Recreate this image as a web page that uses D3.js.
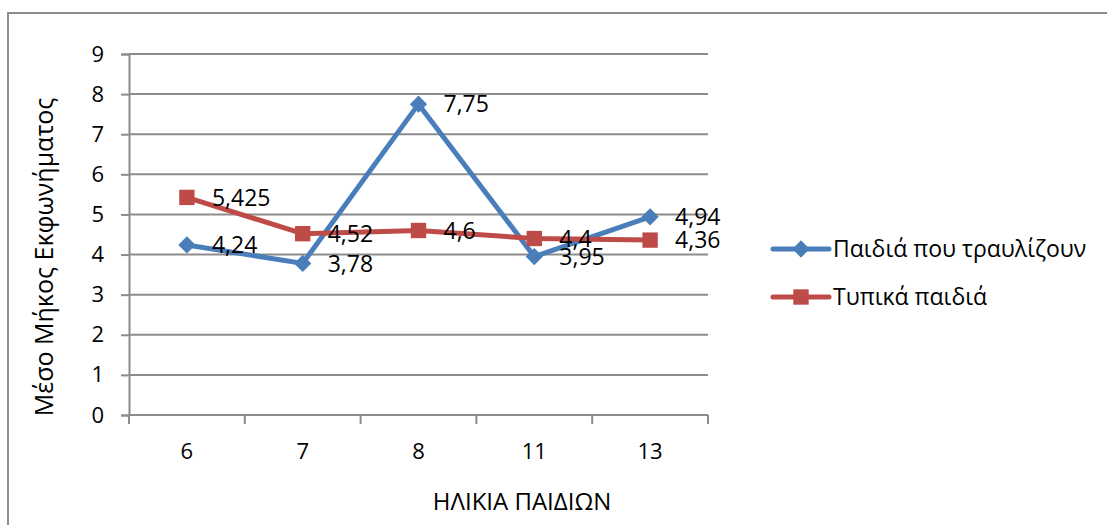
<!DOCTYPE html>
<html>
<head>
<meta charset="utf-8">
<script src="https://cdn.jsdelivr.net/npm/d3@7"></script>
<style>
  body { margin: 0; background: #fff; }
  svg { display: block; font-family: 'Open Sans', sans-serif; }
</style>
</head>
<body>
<script>
'use strict'

const ages = ['6', '7', '8', '11', '13']
const stutter = [4.24, 3.78, 7.75, 3.95, 4.94]
const typical = [5.425, 4.52, 4.6, 4.4, 4.36]
const stutterLabels = ['4,24', '3,78', '7,75', '3,95', '4,94']
const typicalLabels = ['5,425', '4,52', '4,6', '4,4', '4,36']
const yTicks = [0, 1, 2, 3, 4, 5, 6, 7, 8, 9]

const width = 1107
const height = 525
const gridColor = '#8c8c8c'
const blue = '#4a7ebb'
const red = '#be4b48'

const svg = d3.select('body').append('svg').attr('width', width).attr('height', height)

// outer chart frame (right and bottom edges fall outside the picture)
svg.append('rect')
    .attr('x', 8).attr('y', 13)
    .attr('width', 1300).attr('height', 700)
    .attr('fill', 'none').attr('stroke', gridColor).attr('stroke-width', 2)

const x = d3.scaleBand().domain(ages).range([129, 708])
const y = d3.scaleLinear().domain([0, 9]).range([415, 54])
const cx = d => x(d) + x.bandwidth() / 2

// horizontal gridlines + y axis
const yAxis = d3.axisLeft(y).tickValues(yTicks).tickSize(8).tickPadding(17)
const gy = svg.append('g').attr('transform', 'translate(129,0)').call(yAxis)
gy.select('.domain').attr('stroke', gridColor).attr('stroke-width', 2)
gy.selectAll('.tick line').attr('stroke', gridColor).attr('stroke-width', 2)
gy.selectAll('.tick text').attr('font-size', 22).attr('fill', '#000')
    .attr('font-family', 'Open Sans')

svg.append('g').selectAll('line')
    .data(yTicks.slice(1))
    .join('line')
    .attr('x1', 129).attr('x2', 708)
    .attr('y1', d => y(d)).attr('y2', d => y(d))
    .attr('stroke', gridColor).attr('stroke-width', 2)

// x axis: line, ticks at the category boundaries, labels at the centres
svg.append('line')
    .attr('x1', 129).attr('x2', 708).attr('y1', y(0)).attr('y2', y(0))
    .attr('stroke', gridColor).attr('stroke-width', 2)

svg.append('g').selectAll('line')
    .data(ages.map(a => x(a)).concat([x.range()[1]]))
    .join('line')
    .attr('x1', d => d).attr('x2', d => d)
    .attr('y1', y(0)).attr('y2', y(0) + 9)
    .attr('stroke', gridColor).attr('stroke-width', 2)

svg.append('g').selectAll('text')
    .data(ages)
    .join('text')
    .attr('x', d => cx(d)).attr('y', 459)
    .attr('text-anchor', 'middle').attr('font-size', 22)
    .text(d => d)

// axis titles
svg.append('text')
    .attr('x', 522).attr('y', 510)
    .attr('text-anchor', 'middle').attr('font-size', 24)
    .text('ΗΛΙΚΙΑ ΠΑΙΔΙΩΝ')

svg.append('text')
    .attr('transform', 'translate(53,257) rotate(-90)')
    .attr('text-anchor', 'middle').attr('font-size', 25)
    .text('Μέσο Μήκος Εκφωνήματος')

// series
const line = d3.line().x(d => cx(d.age)).y(d => y(d.v))
const diamond = d3.symbol().type(d3.symbolDiamond2).size(190)
const square = d3.symbol().type(d3.symbolSquare2).size(300)

function drawSeries(values, labels, color, shape) {
    const pts = values.map((v, i) => ({ age: ages[i], v: v, label: labels[i] }))
    const g = svg.append('g')
    g.append('path')
        .datum(pts)
        .attr('d', line)
        .attr('fill', 'none').attr('stroke', color)
        .attr('stroke-width', 5).attr('stroke-linejoin', 'round')
    g.selectAll('path.m')
        .data(pts)
        .join('path')
        .attr('class', 'm')
        .attr('transform', d => `translate(${cx(d.age)},${y(d.v)})`)
        .attr('d', shape)
        .attr('fill', color)
    return pts
}

const sPts = drawSeries(stutter, stutterLabels, blue, diamond)
const tPts = drawSeries(typical, typicalLabels, red, square)

// data labels on top of both series
svg.append('g').selectAll('text')
    .data(sPts.concat(tPts))
    .join('text')
    .attr('x', d => cx(d.age) + 25).attr('y', d => y(d.v))
    .attr('dy', '0.36em').attr('font-size', 23)
    .text(d => d.label)

// legend
const legend = [
    { name: 'Παιδιά που τραυλίζουν', color: blue, shape: diamond, y: 249 },
    { name: 'Τυπικά παιδιά', color: red, shape: square, y: 297 }
]
const lg = svg.append('g').selectAll('g').data(legend).join('g')
    .attr('transform', d => `translate(0,${d.y})`)
lg.append('line')
    .attr('x1', 773).attr('x2', 829)
    .attr('stroke', d => d.color).attr('stroke-width', 5)
    .attr('stroke-linecap', 'round')
lg.append('path')
    .attr('transform', 'translate(801,0)')
    .attr('d', d => d.shape())
    .attr('fill', d => d.color)
lg.append('text')
    .attr('x', 833).attr('dy', '0.36em').attr('font-size', 23)
    .text(d => d.name)
</script>
</body>
</html>
